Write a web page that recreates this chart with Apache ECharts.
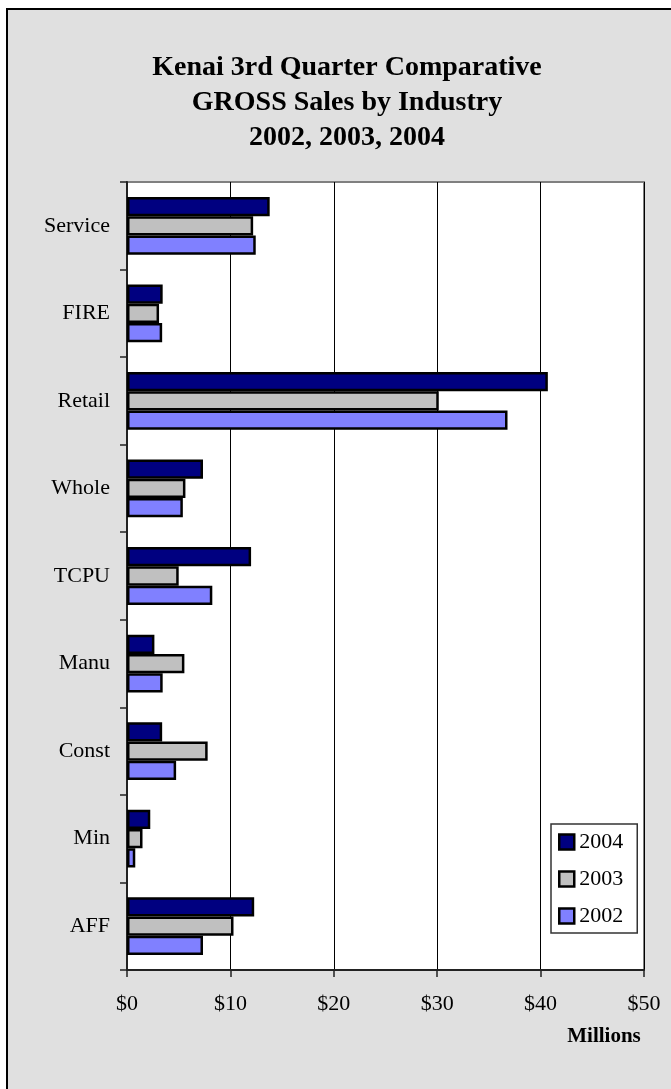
<!DOCTYPE html>
<html>
<head>
<meta charset="utf-8">
<script src="https://cdn.jsdelivr.net/npm/echarts@6/dist/echarts.min.js"></script>
<style>
  html, body { margin: 0; padding: 0; background: #fff; }
  #chart { width: 671px; height: 1089px; }
</style>
</head>
<body>
<div id="chart"></div>
<script>
// categories, top to bottom
var industries = ['Service', 'FIRE', 'Retail', 'Whole', 'TCPU', 'Manu', 'Const', 'Min', 'AFF'];
// gross sales, millions of dollars
var sales2004 = [13.8, 3.45, 40.7, 7.35, 12.0, 2.65, 3.4, 2.25, 12.3];
var sales2003 = [12.2, 3.1, 30.15, 5.65, 5.0, 5.55, 7.8, 1.5, 10.3];
var sales2002 = [12.45, 3.4, 36.8, 5.4, 8.25, 3.45, 4.75, 0.8, 7.35];
var xTicks = [0, 10, 20, 30, 40, 50];

var serif = '"Liberation Serif", "DejaVu Serif", serif';
var chart = echarts.init(document.getElementById('chart'));

function bar(name, color, data) {
  return {
    name: name,
    type: 'bar',
    data: data,
    barGap: '0%',
    barCategoryGap: '34%',
    itemStyle: { color: color, borderColor: '#000', borderWidth: 2.5 }
  };
}

var option = {
  backgroundColor: '#fff',
  animation: false,
  graphic: [{
    type: 'rect',
    z: -10,
    shape: { x: 7, y: 9, width: 720, height: 1120 },
    style: { fill: '#e0e0e0', stroke: '#000', lineWidth: 2 }
  }],
  title: [{
    text: 'Kenai 3rd Quarter Comparative\nGROSS Sales by Industry\n2002, 2003, 2004',
    left: 347,
    top: 50,
    padding: 0,
    textAlign: 'center',
    textStyle: { fontFamily: serif, fontSize: 28, fontWeight: 'bold', lineHeight: 35, color: '#000' }
  }, {
    text: 'Millions',
    left: 604,
    top: 1026,
    padding: 0,
    textAlign: 'center',
    textStyle: { fontFamily: serif, fontSize: 21, fontWeight: 'bold', color: '#000' }
  }],
  legend: {
    orient: 'vertical',
    left: 551,
    top: 824,
    padding: [7, 14, 6, 7],
    itemGap: 15,
    itemWidth: 15,
    itemHeight: 15,
    icon: 'rect',
    backgroundColor: '#fff',
    borderColor: '#333',
    borderWidth: 1.5,
    borderRadius: 0,
    itemStyle: { borderColor: '#000', borderWidth: 2.5 },
    textStyle: { fontFamily: serif, fontSize: 22, lineHeight: 22, color: '#000', padding: [0, 0, 0, 0] },
    data: ['2004', '2003', '2002']
  },
  grid: {
    left: 127,
    right: 27,
    top: 182,
    bottom: 119,
    show: true,
    backgroundColor: '#fff',
    borderColor: '#808080',
    borderWidth: 2
  },
  xAxis: {
    type: 'value',
    min: xTicks[0],
    max: xTicks[xTicks.length - 1],
    interval: 10,
    axisLine: { show: true, lineStyle: { color: '#222', width: 2 } },
    axisTick: { show: true, length: 7, lineStyle: { color: '#222', width: 1.5 } },
    splitLine: { show: true, lineStyle: { color: '#000', width: 1 } },
    axisLabel: {
      margin: 23,
      fontFamily: serif,
      fontSize: 22,
      color: '#000',
      formatter: function (v) { return '$' + v; }
    }
  },
  yAxis: {
    type: 'category',
    inverse: true,
    data: industries,
    axisLine: { show: true, lineStyle: { color: '#222', width: 2 } },
    axisTick: { show: true, length: 7, lineStyle: { color: '#222', width: 1.5 } },
    axisLabel: { margin: 17, fontFamily: serif, fontSize: 22, color: '#000' }
  },
  series: [
    bar('2004', '#000080', sales2004),
    bar('2003', '#c0c0c0', sales2003),
    bar('2002', '#8080ff', sales2002)
  ]
};

chart.setOption(option);
</script>
</body>
</html>
